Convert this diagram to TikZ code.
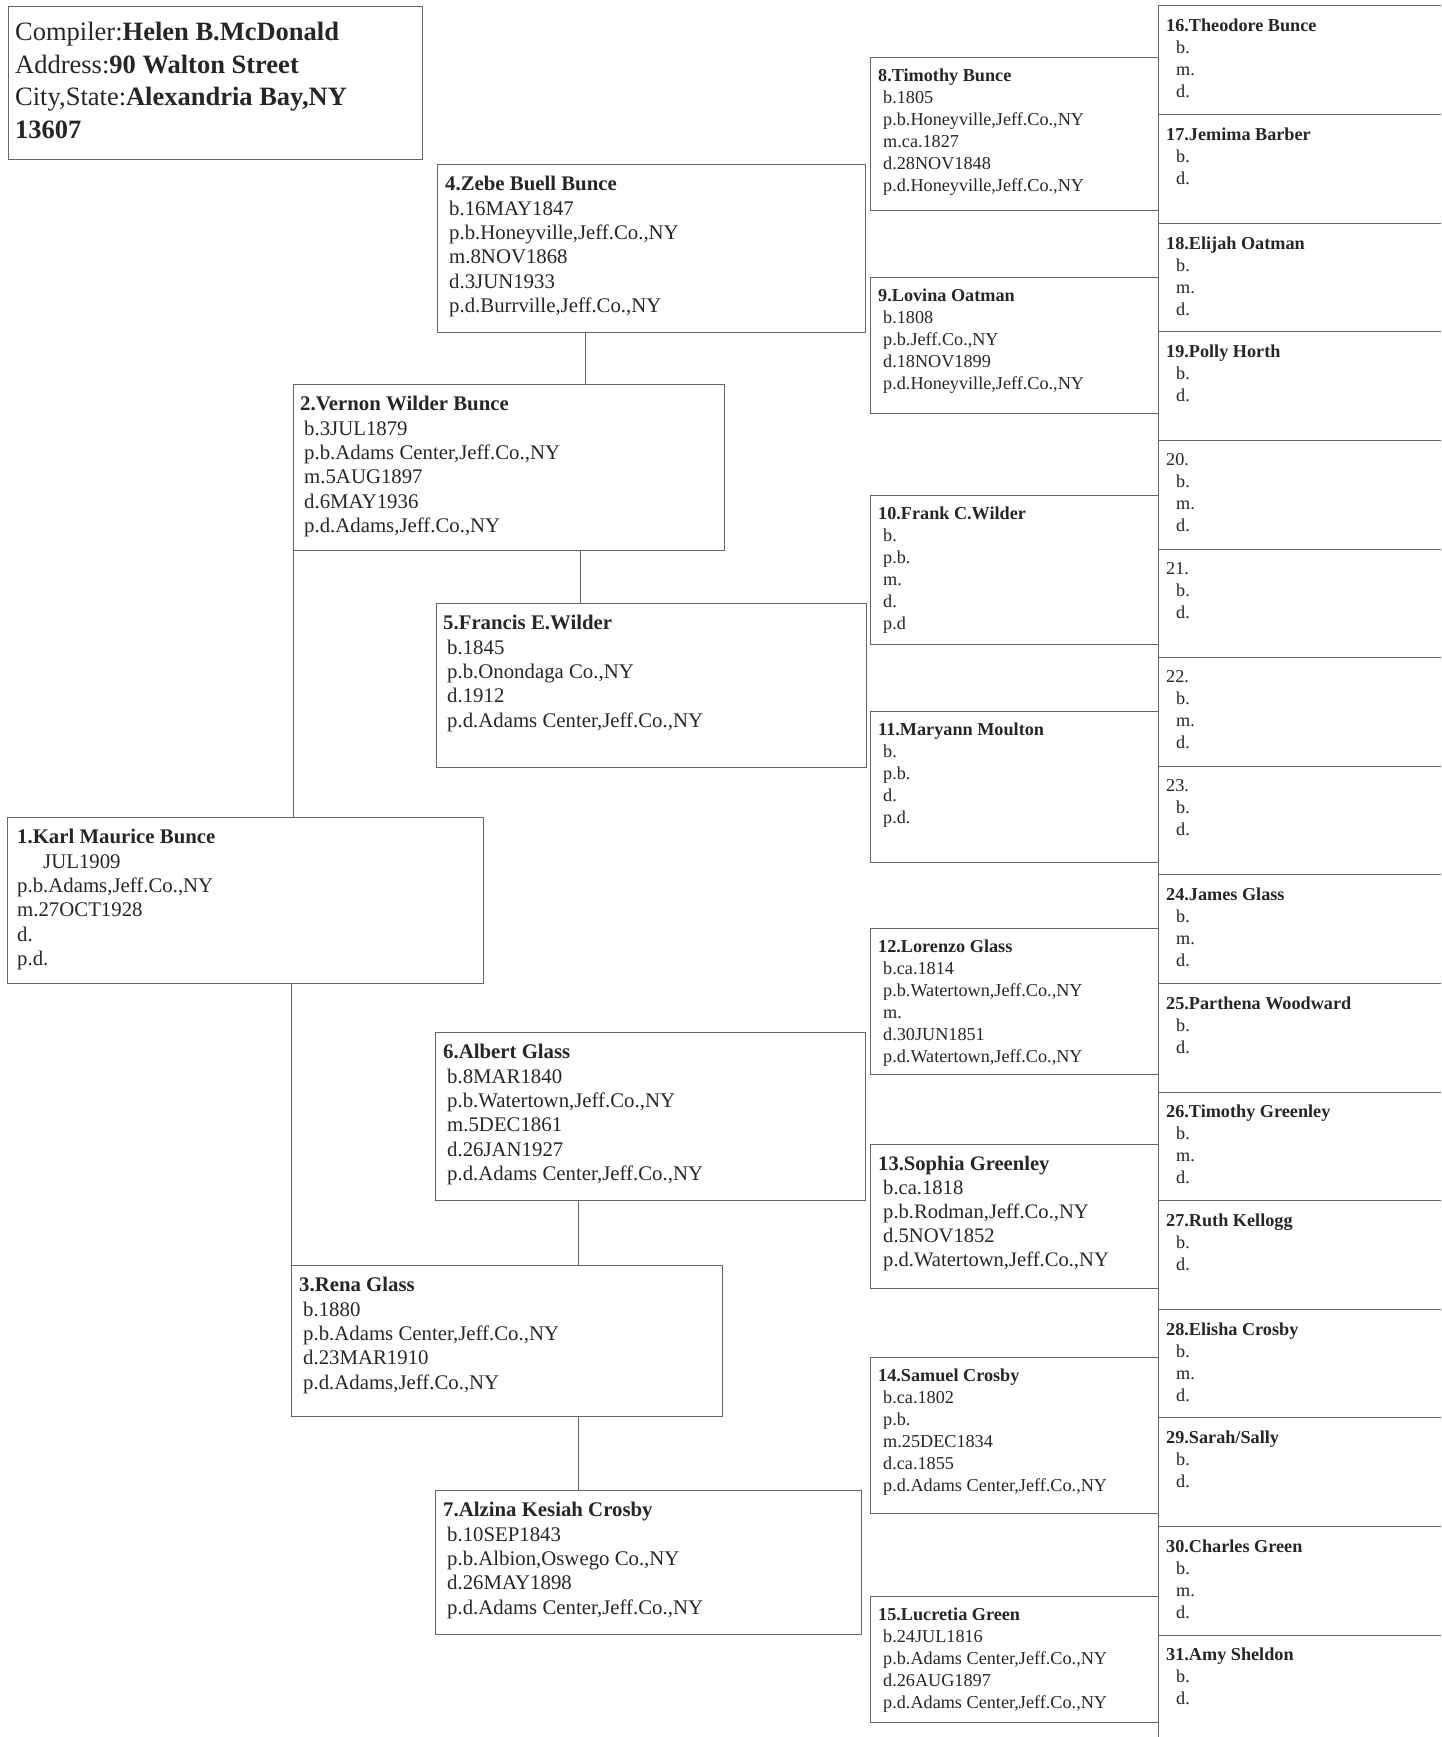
\documentclass[tikz,border=0pt]{standalone}
\usepackage{fontspec}
\setmainfont{Liberation Serif}
\usetikzlibrary{positioning}
\newcommand{\inA}{\hspace*{4pt}}
\newcommand{\inB}{\hspace*{5pt}}
\newcommand{\inC}{\hspace*{10pt}}

\begin{document}
\begin{tikzpicture}[x=1pt, y=-1pt,
  frame/.style={draw=black!60, line width=1pt, inner sep=0pt, anchor=north west},
  txtA/.style={inner sep=0pt, align=left, text=black!85, font=\fontsize{20.8}{24.4}\selectfont},
  txtB/.style={txtA, font=\fontsize{18.2}{22}\selectfont},
  txtC/.style={txtA, anchor=north west, font=\fontsize{18.2}{22}\selectfont},
  link/.style={draw=black!60, line width=1pt}]
\useasboundingbox (0,0) rectangle (1441,1737);

% compiler
\node[frame, minimum width=414pt, minimum height=153pt] (comp) at (8,6) {};
\node[txtA, font=\fontsize{26.5}{32.5}\selectfont, below right=16pt and 7pt of comp.north west] (compt)
  {Compiler:\textbf{Helen B.McDonald}\\ Address:\textbf{90 Walton Street}\\
   City,State:\textbf{Alexandria Bay,NY}\\ \textbf{13607}};

% generations 1 and 2
\node[frame, minimum width=428pt, minimum height=168pt] (b4) at (437,164) {};
\node[txtA, below right=12pt and 8pt of b4.north west] (t4)
  {\textbf{4.Zebe Buell Bunce}\\ \inA b.16MAY1847\\ \inA p.b.Honeyville,Jeff.Co.,NY\\
   \inA m.8NOV1868\\ \inA d.3JUN1933\\ \inA p.d.Burrville,Jeff.Co.,NY};
\node[frame, minimum width=431pt, minimum height=166pt] (b2) at (293,384) {};
\node[txtA, below right=12pt and 7pt of b2.north west] (t2)
  {\textbf{2.Vernon Wilder Bunce}\\ \inA b.3JUL1879\\ \inA p.b.Adams Center,Jeff.Co.,NY\\
   \inA m.5AUG1897\\ \inA d.6MAY1936\\ \inA p.d.Adams,Jeff.Co.,NY};
\node[frame, minimum width=430pt, minimum height=164pt] (b5) at (436,603) {};
\node[txtA, below right=12pt and 7pt of b5.north west] (t5)
  {\textbf{5.Francis E.Wilder}\\ \inA b.1845\\ \inA p.b.Onondaga Co.,NY\\
   \inA d.1912\\ \inA p.d.Adams Center,Jeff.Co.,NY};
\node[frame, minimum width=476pt, minimum height=166pt] (b1) at (7,817) {};
\node[txtA, below right=12pt and 10pt of b1.north west] (t1)
  {\textbf{1.Karl Maurice Bunce}\\ \phantom{b.3}JUL1909\\ p.b.Adams,Jeff.Co.,NY\\
   m.27OCT1928\\ d.\\ p.d.};
\node[frame, minimum width=430pt, minimum height=168pt] (b6) at (435,1032) {};
\node[txtA, below right=12pt and 8pt of b6.north west] (t6)
  {\textbf{6.Albert Glass}\\ \inA b.8MAR1840\\ \inA p.b.Watertown,Jeff.Co.,NY\\
   \inA m.5DEC1861\\ \inA d.26JAN1927\\ \inA p.d.Adams Center,Jeff.Co.,NY};
\node[frame, minimum width=431pt, minimum height=151pt] (b3) at (291,1265) {};
\node[txtA, below right=12pt and 8pt of b3.north west] (t3)
  {\textbf{3.Rena Glass}\\ \inA b.1880\\ \inA p.b.Adams Center,Jeff.Co.,NY\\
   \inA d.23MAR1910\\ \inA p.d.Adams,Jeff.Co.,NY};
\node[frame, minimum width=426pt, minimum height=144pt] (b7) at (435,1490) {};
\node[txtA, below right=12pt and 8pt of b7.north west] (t7)
  {\textbf{7.Alzina Kesiah Crosby}\\ \inA b.10SEP1843\\ \inA p.b.Albion,Oswego Co.,NY\\
   \inA d.26MAY1898\\ \inA p.d.Adams Center,Jeff.Co.,NY};

\draw[link] ([xshift=148pt]b4.south west) -- ([xshift=148pt]b4.south west |- b2.north);
\draw[link] ([xshift=144pt]b5.north west |- b2.south) -- ([xshift=144pt]b5.north west);
\draw[link] (b2.south west) -- (b2.south west |- b1.north);
\draw[link] (b3.north west |- b1.south) -- (b3.north west);
\draw[link] ([xshift=143pt]b6.south west) -- ([xshift=143pt]b6.south west |- b3.north);
\draw[link] ([xshift=143pt]b7.north west |- b3.south) -- ([xshift=143pt]b7.north west);

% generation 3
\node[frame, minimum width=288pt, minimum height=153pt] (b8) at (870,57) {};
\node[txtB, below right=12pt and 8pt of b8.north west] (t8)
  {\textbf{8.Timothy Bunce}\\ \inB b.1805\\ \inB p.b.Honeyville,Jeff.Co.,NY\\
   \inB m.ca.1827\\ \inB d.28NOV1848\\ \inB p.d.Honeyville,Jeff.Co.,NY};
\node[frame, minimum width=288pt, minimum height=136pt] (b9) at (870,277) {};
\node[txtB, below right=12pt and 8pt of b9.north west] (t9)
  {\textbf{9.Lovina Oatman}\\ \inB b.1808\\ \inB p.b.Jeff.Co.,NY\\
   \inB d.18NOV1899\\ \inB p.d.Honeyville,Jeff.Co.,NY};
\node[frame, minimum width=288pt, minimum height=149pt] (b10) at (870,495) {};
\node[txtB, below right=12pt and 8pt of b10.north west] (t10)
  {\textbf{10.Frank C.Wilder}\\ \inB b.\\ \inB p.b.\\ \inB m.\\ \inB d.\\ \inB p.d};
\node[frame, minimum width=288pt, minimum height=151pt] (b11) at (870,711) {};
\node[txtB, below right=12pt and 8pt of b11.north west] (t11)
  {\textbf{11.Maryann Moulton}\\ \inB b.\\ \inB p.b.\\ \inB d.\\ \inB p.d.};
\node[frame, minimum width=288pt, minimum height=146pt] (b12) at (870,928) {};
\node[txtB, below right=12pt and 8pt of b12.north west] (t12)
  {\textbf{12.Lorenzo Glass}\\ \inB b.ca.1814\\ \inB p.b.Watertown,Jeff.Co.,NY\\
   \inB m.\\ \inB d.30JUN1851\\ \inB p.d.Watertown,Jeff.Co.,NY};
\node[frame, minimum width=288pt, minimum height=144pt] (b13) at (870,1144) {};
\node[txtA, font=\fontsize{20.6}{24}\selectfont, below right=12pt and 8pt of b13.north west] (t13)
  {\textbf{13.Sophia Greenley}\\ \inB b.ca.1818\\ \inB p.b.Rodman,Jeff.Co.,NY\\
   \inB d.5NOV1852\\ \inB p.d.Watertown,Jeff.Co.,NY};
\node[frame, minimum width=288pt, minimum height=156pt] (b14) at (870,1357) {};
\node[txtB, below right=12pt and 8pt of b14.north west] (t14)
  {\textbf{14.Samuel Crosby}\\ \inB b.ca.1802\\ \inB p.b.\\
   \inB m.25DEC1834\\ \inB d.ca.1855\\ \inB p.d.Adams Center,Jeff.Co.,NY};
\node[frame, minimum width=288pt, minimum height=126pt] (b15) at (870,1596) {};
\node[txtB, below right=12pt and 8pt of b15.north west] (t15)
  {\textbf{15.Lucretia Green}\\ \inB b.24JUL1816\\ \inB p.b.Adams Center,Jeff.Co.,NY\\
   \inB d.26AUG1897\\ \inB p.d.Adams Center,Jeff.Co.,NY};

% generation 4
\draw[link] (1441,6) -- (1158,6) -- (1158,1737);
\foreach \k in {1,...,15}
  \draw[link] (1158,6+108.6*\k) -- (1441,6+108.6*\k);
\node[txtC] (g16) at (1166,19) {\textbf{16.Theodore Bunce}\\ \inC b.\\ \inC m.\\ \inC d.};
\node[txtC] (g17) at (1166,127.6) {\textbf{17.Jemima Barber}\\ \inC b.\\ \inC d.};
\node[txtC] (g18) at (1166,236.2) {\textbf{18.Elijah Oatman}\\ \inC b.\\ \inC m.\\ \inC d.};
\node[txtC] (g19) at (1166,344.8) {\textbf{19.Polly Horth}\\ \inC b.\\ \inC d.};
\node[txtC] (g20) at (1166,453.4) {20.\\ \inC b.\\ \inC m.\\ \inC d.};
\node[txtC] (g21) at (1166,562) {21.\\ \inC b.\\ \inC d.};
\node[txtC] (g22) at (1166,670.6) {22.\\ \inC b.\\ \inC m.\\ \inC d.};
\node[txtC] (g23) at (1166,779.2) {23.\\ \inC b.\\ \inC d.};
\node[txtC] (g24) at (1166,887.8) {\textbf{24.James Glass}\\ \inC b.\\ \inC m.\\ \inC d.};
\node[txtC] (g25) at (1166,996.4) {\textbf{25.Parthena Woodward}\\ \inC b.\\ \inC d.};
\node[txtC] (g26) at (1166,1105) {\textbf{26.Timothy Greenley}\\ \inC b.\\ \inC m.\\ \inC d.};
\node[txtC] (g27) at (1166,1213.6) {\textbf{27.Ruth Kellogg}\\ \inC b.\\ \inC d.};
\node[txtC] (g28) at (1166,1322.2) {\textbf{28.Elisha Crosby}\\ \inC b.\\ \inC m.\\ \inC d.};
\node[txtC] (g29) at (1166,1430.8) {\textbf{29.Sarah/Sally}\\ \inC b.\\ \inC d.};
\node[txtC] (g30) at (1166,1539.4) {\textbf{30.Charles Green}\\ \inC b.\\ \inC m.\\ \inC d.};
\node[txtC] (g31) at (1166,1648) {\textbf{31.Amy Sheldon}\\ \inC b.\\ \inC d.};
\end{tikzpicture}
\end{document}
